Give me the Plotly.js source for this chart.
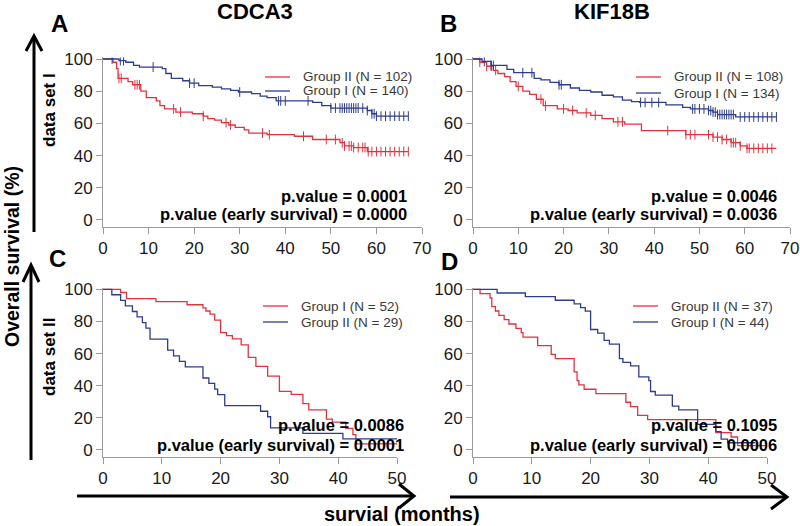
<!DOCTYPE html>
<html><head><meta charset="utf-8">
<script src="https://cdn.plot.ly/plotly-3.0.1.min.js"></script>
<style>html,body{margin:0;padding:0;background:#fff}</style>
</head><body><div id="chart" style="width:800px;height:526px"></div>
<script>
// ---------- data ----------
const geneTitles = ["CDCA3", "KIF18B"];
const panelLetters = ["A", "B", "C", "D"];
const rowLabels = ["data set I", "data set II"];
const xTicksTop = [0, 10, 20, 30, 40, 50, 60, 70];
const xTicksBottom = [0, 10, 20, 30, 40, 50];
const yTicks = [0, 20, 40, 60, 80, 100];

// Panel A (CDCA3, data set I)
const aRedName = "Group II (N = 102)";
const aRedT = [0, 2.2, 3, 3.3, 5.5, 6.5, 8.3, 9.5, 11.7, 12.5, 13.5, 16, 19.6, 22, 23, 24.5, 26, 27.6, 29, 31, 32, 36, 42, 46, 52, 53, 55, 58, 67];
const aRedS = [100, 98, 94, 88, 86, 84, 80, 76, 74, 71, 69, 67, 66, 64.5, 63, 62, 60.5, 59, 57.5, 56, 54, 53, 52, 50, 48, 46, 45, 42.5, 42.5];
const aRedCens = [3.5, 4, 7, 7.5, 8, 15.5, 17, 22, 27, 28, 35, 36.5, 44, 49, 51, 52.5, 53, 54, 54.5, 55, 56, 57, 57.5, 58.2, 59, 60, 61, 62, 63, 64, 65, 66, 67];
const aBlueName = "Group I (N = 140)";
const aBlueT = [0, 3.5, 5, 6.7, 8, 13, 13.8, 15, 17.5, 19, 21, 24, 26, 28, 29.7, 32.6, 34.5, 36, 38, 46, 48, 50, 58, 59, 60, 67];
const aBlueS = [100, 99, 98, 96, 95, 94, 91, 88, 86.5, 85, 83.5, 82.5, 81.5, 80.5, 79.5, 78.5, 77, 76, 74, 73, 71, 69.5, 68, 66, 64.5, 64.5];
const aBlueCens = [2, 3.8, 4.5, 11, 19, 20, 30, 38.5, 39, 40, 45, 50, 51, 52, 52.5, 53, 53.5, 54, 54.5, 55, 55.5, 56, 57, 58, 59, 59.5, 60, 61, 62, 63, 64, 65, 66, 67];
const aPval = ["p.value = 0.0001", "p.value (early survival) = 0.0000"];

// Panel B (KIF18B, data set I)
const bRedName = "Group II (N = 108)";
const bRedT = [0, 1.5, 3, 4.5, 5.5, 7, 8.2, 9.5, 11, 12.5, 14, 15.5, 18.6, 21, 23, 26, 28.5, 31, 33.5, 37.2, 47, 53, 55, 57, 59, 60.5, 67];
const bRedS = [100, 98, 95.5, 93, 91, 89, 86, 83, 80, 78, 75, 71, 69, 68, 66.5, 65, 63, 61, 59.5, 55.5, 53, 51.5, 50, 48, 46, 44.5, 44.5];
const bRedCens = [1.5, 3, 4, 5, 10, 15, 16, 20, 22, 25, 27, 32, 33, 43, 47, 48, 49, 52, 53, 54, 55, 56, 57, 57.5, 58, 59, 60.5, 61, 62, 63, 64, 65, 66];
const bBlueName = "Group I (N = 134)";
const bBlueT = [0, 2, 4, 7.5, 9, 13.5, 15, 17, 19, 21.5, 23.5, 26, 28.5, 31, 33, 35, 36.8, 42.6, 46.3, 48, 52, 53, 54, 58, 67];
const bBlueS = [100, 98.5, 96, 93.5, 91.5, 88, 87, 85.5, 84, 82, 80.5, 79.5, 77.5, 76.5, 74.5, 73.5, 73, 71.5, 70, 69, 68, 67, 65.5, 64, 64];
const bBlueCens = [2.5, 4, 4.5, 11, 13, 19, 19.5, 37, 38, 39.5, 41, 48.5, 49, 50, 51, 52, 52.5, 53, 53.5, 54, 54.5, 55, 55.5, 56, 56.5, 57, 57.5, 59, 60, 61, 62, 63, 64, 65, 66, 67];
const bPval = ["p.value = 0.0046", "p.value (early survival) = 0.0036"];

// Panel C (CDCA3, data set II)
const cRedName = "Group I (N = 52)";
const cRedT = [0, 3, 4, 9, 14.3, 17, 17.5, 18.2, 19, 20, 21, 22, 23.5, 24.7, 26, 28, 30, 32, 34, 35, 38, 39, 41.3, 42.5, 43, 50];
const cRedS = [100, 98, 94.2, 92.3, 90.4, 88.5, 86.5, 84.6, 80.8, 73, 71.2, 69.2, 65.4, 57.7, 52, 46, 36.5, 34.6, 28.8, 25, 19.2, 17.3, 13.5, 9.6, 3.8, 3.8];
const cBlueName = "Group II (N = 29)";
const cBlueT = [0, 1.5, 3, 3.8, 5, 5.8, 6.7, 7.3, 8, 11, 12, 13, 14, 17, 18, 19, 19.5, 20.7, 26.8, 28, 28.5, 34, 40.8, 50];
const cBlueS = [100, 96.6, 93.1, 89.7, 86.2, 82.8, 79.3, 75.9, 69, 62.1, 58.6, 55.2, 51.7, 44.8, 41.4, 37.9, 34.5, 27.6, 24.1, 20.7, 13.8, 10.3, 6.9, 6.9];
const cPval = ["p.value = 0.0086", "p.value (early survival) = 0.0001"];

// Panel D (KIF18B, data set II)
const dRedName = "Group II (N = 37)";
const dRedT = [0, 1.2, 2.9, 3.2, 3.8, 4.4, 5.3, 6.1, 7.3, 8.2, 8.5, 11, 13.3, 14, 17.2, 17.7, 18, 18.9, 20.9, 26, 26.8, 28, 29.7, 41.3, 43.9, 45, 50];
const dRedS = [100, 97.3, 94.6, 89.2, 86.5, 83.8, 81.1, 78.4, 75.7, 73, 70.3, 64.9, 59.5, 56.8, 48.6, 43.2, 40.5, 37.8, 35.1, 29.7, 27, 21.6, 18.9, 10.8, 8.1, 2.7, 2.7];
const dBlueName = "Group I (N = 44)";
const dBlueT = [0, 4.1, 8.9, 14, 17.2, 18.3, 19.1, 20, 21.2, 22.3, 23.2, 24.9, 25.5, 26.8, 28.2, 29.9, 30.2, 31, 33.9, 35, 38.2, 41.3, 42.2, 43.3, 48];
const dBlueS = [100, 97.7, 95.5, 93.2, 90.9, 88.6, 86.4, 75, 72.7, 68.2, 65.9, 56.8, 54.5, 52.3, 45.5, 43.2, 36.4, 34.1, 27.3, 25, 15.9, 11.4, 6.8, 4.5, 4.5];
const dPval = ["p.value = 0.1095", "p.value (early survival) = 0.0006"];

// ---------- styling ----------
const RED = "#e2333d", BLUE = "#2c3d8e";
const FONT = "Liberation Sans, Arial, Helvetica, sans-serif";
const W = 800, H = 526;
const px = x => x / W, py = y => 1 - y / H;

function stepAt(ts, ss, t) { let v = ss[0]; for (let i = 0; i < ts.length; i++) { if (ts[i] <= t) v = ss[i]; } return v; }

const traces = [];
function addCurve(ax, ts, ss, color, name, cens) {
  traces.push({ type: "scatter", mode: "lines", x: ts, y: ss, xaxis: "x" + ax, yaxis: "y" + ax,
    line: { shape: "hv", color: color, width: 1.3 }, name: name, showlegend: false, hoverinfo: "x+y+name" });
  if (cens && cens.length) {
    traces.push({ type: "scatter", mode: "markers", x: cens, y: cens.map(t => stepAt(ts, ss, t)),
      xaxis: "x" + ax, yaxis: "y" + ax, showlegend: false, name: name + " censored",
      marker: { symbol: "line-ns-open", size: 7, color: color, line: { color: color, width: 1 } } });
  }
}
// axis suffixes: "" -> A, "2" -> B, "3" -> C, "4" -> D
addCurve("", aRedT, aRedS, RED, aRedName, aRedCens);
addCurve("", aBlueT, aBlueS, BLUE, aBlueName, aBlueCens);
addCurve("2", bRedT, bRedS, RED, bRedName, bRedCens);
addCurve("2", bBlueT, bBlueS, BLUE, bBlueName, bBlueCens);
addCurve("3", cRedT, cRedS, RED, cRedName, null);
addCurve("3", cBlueT, cBlueS, BLUE, cBlueName, null);
addCurve("4", dRedT, dRedS, RED, dRedName, null);
addCurve("4", dBlueT, dBlueS, BLUE, dBlueName, null);

function xAx(domPx, maxV, ticks, anchor) {
  return { domain: [px(domPx[0]), px(domPx[1])], range: [0, maxV], tickvals: ticks, anchor: anchor,
    showline: true, linecolor: "#9a9a9a", linewidth: 1, ticks: "outside", ticklen: 6, tickcolor: "#9a9a9a",
    showgrid: false, zeroline: false, tickfont: { family: FONT, size: 17, color: "#1a1a1a" }, fixedrange: true };
}
function yAx(botPx, topPx, anchor) {
  return { domain: [py(botPx), py(topPx)], range: [-4.3, 101], tickvals: yTicks, anchor: anchor,
    showline: true, linecolor: "#9a9a9a", linewidth: 1, ticks: "outside", ticklen: 6, tickcolor: "#9a9a9a",
    showgrid: false, zeroline: false, tickfont: { family: FONT, size: 17, color: "#1a1a1a" }, fixedrange: true };
}

const ann = [];
function txt(x, y, text, size, opts) {
  ann.push(Object.assign({ xref: "paper", yref: "paper", x: px(x), y: py(y), text: text, showarrow: false,
    xanchor: "center", yanchor: "middle", font: { family: FONT, size: size, color: "#000" } }, opts || {}));
}
const B = s => "<b>" + s + "</b>";
txt(255, 12, B(geneTitles[0]), 22);
txt(612, 12, B(geneTitles[1]), 22);
txt(59, 24, B(panelLetters[0]), 24);
txt(448, 24, B(panelLetters[1]), 24);
txt(58, 258, B(panelLetters[2]), 24);
txt(449, 261, B(panelLetters[3]), 24);
txt(12, 257, B("Overall survival (%)"), 19.5, { textangle: -90 });
txt(49, 110, B(rowLabels[0]), 17, { textangle: -90 });
txt(49, 357, B(rowLabels[1]), 17, { textangle: -90 });
txt(402, 514, B("survial (months)"), 20);

// p-values
function pv(right, y1, y2, arr) {
  txt(right, y1, B(arr[0]), 16.5, { xanchor: "right" });
  txt(right, y2, B(arr[1]), 16.5, { xanchor: "right" });
}
pv(409, 196, 214, aPval);
pv(779, 196, 214, bPval);
pv(406, 425, 445, cPval);
pv(779, 425, 445, dPval);

// legends (drawn manually)
const shapes = [];
function legend(x0, y0, dy, items) {
  items.forEach((it, i) => {
    const y = y0 + i * dy;
    shapes.push({ type: "line", xref: "paper", yref: "paper", x0: px(x0), x1: px(x0 + 25), y0: py(y), y1: py(y),
      line: { color: it[1], width: 1.3 } });
    txt(x0 + 36, y, it[0], 13.5, { xanchor: "left", font: { family: FONT, size: 13.5, color: "#3a3a3a" } });
  });
}
legend(265, 77, 14, [[aRedName, RED], [aBlueName, BLUE]]);
legend(636, 77, 16, [[bRedName, RED], [bBlueName, BLUE]]);
legend(263, 306, 16, [[cRedName, RED], [cBlueName, BLUE]]);
legend(633, 306, 16, [[dRedName, RED], [dBlueName, BLUE]]);

// big arrows
function path(pts) { return pts.map((p, i) => (i ? "L" : "M") + px(p[0]) + "," + py(p[1])).join(" "); }
function arrow(line, head) {
  shapes.push({ type: "path", xref: "paper", yref: "paper", path: path(line), line: { color: "#000", width: 3 } });
  shapes.push({ type: "path", xref: "paper", yref: "paper", path: path(head), line: { color: "#000", width: 3 } });
}
arrow([[34, 232], [34, 37]], [[26, 51], [34, 36], [42, 51]]);
arrow([[31, 460], [31, 266]], [[23, 282], [31, 265], [39, 282]]);
arrow([[77, 496], [413, 496]], [[399, 484], [414, 496], [399, 508]]);
arrow([[450, 497], [786, 497]], [[771, 485], [787, 497], [771, 509]]);

const layout = {
  width: W, height: H, margin: { l: 0, r: 0, t: 0, b: 0 }, paper_bgcolor: "#fff", plot_bgcolor: "#fff",
  showlegend: false, font: { family: FONT },
  xaxis: xAx([103, 422], 70, xTicksTop, "y"),
  yaxis: yAx(226.9, 57.4, "x"),
  xaxis2: xAx([473, 790], 70, xTicksTop, "y2"),
  yaxis2: yAx(226.9, 57.4, "x2"),
  xaxis3: xAx([103, 397], 50, xTicksBottom, "y3"),
  yaxis3: yAx(456.9, 287.7, "x3"),
  xaxis4: xAx([473, 767], 50, xTicksBottom, "y4"),
  yaxis4: yAx(456.9, 287.7, "x4"),
  annotations: ann, shapes: shapes
};
Plotly.newPlot("chart", traces, layout, { displayModeBar: false, staticPlot: true });
</script></body></html>
